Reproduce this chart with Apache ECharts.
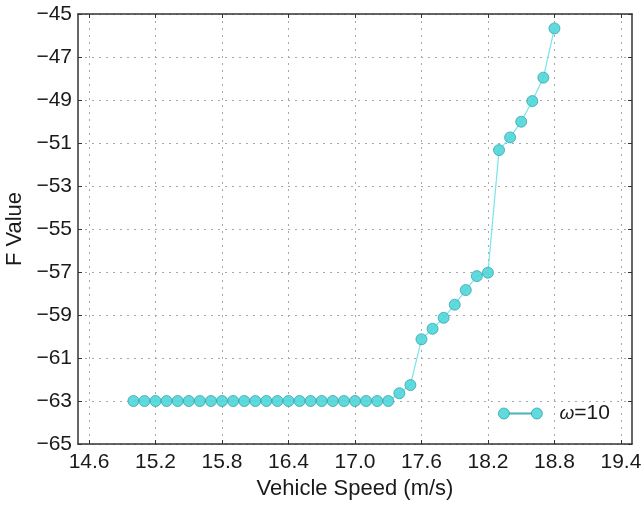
<!DOCTYPE html>
<html>
<head>
<meta charset="utf-8">
<title>F Value vs Vehicle Speed</title>
<script src="https://cdn.jsdelivr.net/npm/echarts@6/dist/echarts.min.js"></script>
<style>
  html, body { margin: 0; padding: 0; background: #ffffff; }
  #chart { width: 644px; height: 506px; }
</style>
</head>
<body>
<div id="chart"></div>
<script>
const speeds = [
  15.0, 15.1, 15.2, 15.3, 15.4, 15.5, 15.6, 15.7, 15.8, 15.9,
  16.0, 16.1, 16.2, 16.3, 16.4, 16.5, 16.6, 16.7, 16.8, 16.9,
  17.0, 17.1, 17.2, 17.3, 17.4, 17.5, 17.6, 17.7, 17.8, 17.9,
  18.0, 18.1, 18.2, 18.3, 18.4, 18.5, 18.6, 18.7, 18.8
]
const fValues = [
  -63, -63, -63, -63, -63, -63, -63, -63, -63, -63,
  -63, -63, -63, -63, -63, -63, -63, -63, -63, -63,
  -63, -63, -63, -63, -62.64, -62.26, -60.13, -59.64, -59.13, -58.52,
  -57.84, -57.19, -57.03, -51.33, -50.74, -50.01, -49.05, -47.96, -45.67
]
const xTicks = [14.6, 15.2, 15.8, 16.4, 17.0, 17.6, 18.2, 18.8, 19.4]
const yTicks = [-65, -63, -61, -59, -57, -55, -53, -51, -49, -47, -45]
const seriesName = 'ω=10'

const FONT = '"Liberation Sans", Arial, sans-serif'
const TEXT_COLOR = '#1a1a1a'
const AXIS_COLOR = '#333333'
const GRID_COLOR = '#a8a8a8'
const MARKER_FILL = '#4fd6d8'
const MARKER_EDGE = '#2b9ea6'
const LINE_COLOR = '#7ae4e8'

const legendIcon = 'path://M0,6 a5.5,5.5 0 1,0 11,0 a5.5,5.5 0 1,0 -11,0 Z ' +
  'M33,6 a5.5,5.5 0 1,0 11,0 a5.5,5.5 0 1,0 -11,0 Z ' +
  'M11,5.4 L33,5.4 L33,6.6 L11,6.6 Z'

const splitLine = {
  show: true,
  lineStyle: { color: GRID_COLOR, type: [2, 5], width: 1 }
}

// top/right copies of the axes, only to close the box with inward ticks
function boxAxis(base, position) {
  return {
    ...base,
    position: position,
    axisLabel: { show: false },
    splitLine: { show: false },
    name: ''
  }
}

const xBase = {
  type: 'value',
  min: 14.5,
  max: 19.5,
  axisLine: { show: true, lineStyle: { color: AXIS_COLOR, width: 1.5 } },
  axisTick: {
    show: true,
    inside: true,
    length: 4,
    customValues: xTicks,
    lineStyle: { color: AXIS_COLOR }
  },
  axisLabel: {
    customValues: xTicks,
    formatter: v => v.toFixed(1),
    color: TEXT_COLOR,
    fontFamily: FONT,
    fontSize: 21,
    margin: 8
  },
  splitLine: splitLine
}

const yBase = {
  type: 'value',
  min: -65,
  max: -45,
  axisLine: { show: true, onZero: false, lineStyle: { color: AXIS_COLOR, width: 1.5 } },
  axisTick: {
    show: true,
    inside: true,
    length: 4,
    customValues: yTicks,
    lineStyle: { color: AXIS_COLOR }
  },
  axisLabel: {
    customValues: yTicks,
    formatter: v => String(v).replace('-', '\u2212'),
    color: TEXT_COLOR,
    fontFamily: FONT,
    fontSize: 21,
    margin: 6
  },
  splitLine: splitLine
}

const chart = echarts.init(document.getElementById('chart'))

chart.setOption({
  animation: false,
  backgroundColor: '#ffffff',
  grid: {
    left: 78,
    right: 12,
    top: 14,
    bottom: 62,
    outerBoundsMode: 'none'
  },
  legend: {
    left: 493,
    top: 398,
    orient: 'vertical',
    itemWidth: 44,
    itemHeight: 12,
    itemGap: 8,
    data: [
      {
        name: seriesName,
        icon: legendIcon,
        itemStyle: {
          color: MARKER_FILL,
          borderColor: MARKER_EDGE,
          borderWidth: 0.8,
          opacity: 0.9
        }
      }
    ],
    formatter: () => '{i|ω}=10',
    textStyle: {
      color: TEXT_COLOR,
      fontFamily: FONT,
      fontSize: 21,
      padding: [0, 0, 0, 12],
      rich: {
        i: {
          fontFamily: FONT,
          fontSize: 19,
          fontStyle: 'italic',
          color: TEXT_COLOR
        }
      }
    }
  },
  xAxis: [
    {
      ...xBase,
      position: 'bottom',
      name: 'Vehicle Speed (m/s)',
      nameLocation: 'middle',
      nameGap: 29,
      nameTextStyle: { color: TEXT_COLOR, fontFamily: FONT, fontSize: 22 }
    },
    boxAxis(xBase, 'top')
  ],
  yAxis: [
    {
      ...yBase,
      position: 'left',
      name: 'F Value',
      nameLocation: 'middle',
      nameGap: 50,
      nameTextStyle: { color: TEXT_COLOR, fontFamily: FONT, fontSize: 22 }
    },
    boxAxis(yBase, 'right')
  ],
  series: [
    {
      name: seriesName,
      type: 'line',
      xAxisIndex: 0,
      yAxisIndex: 0,
      data: speeds.map((s, i) => [s, fValues[i]]),
      symbol: 'circle',
      symbolSize: 11,
      lineStyle: { color: LINE_COLOR, width: 1.2 },
      itemStyle: {
        color: MARKER_FILL,
        borderColor: MARKER_EDGE,
        borderWidth: 0.8,
        opacity: 0.9
      }
    }
  ]
})
</script>
</body>
</html>
